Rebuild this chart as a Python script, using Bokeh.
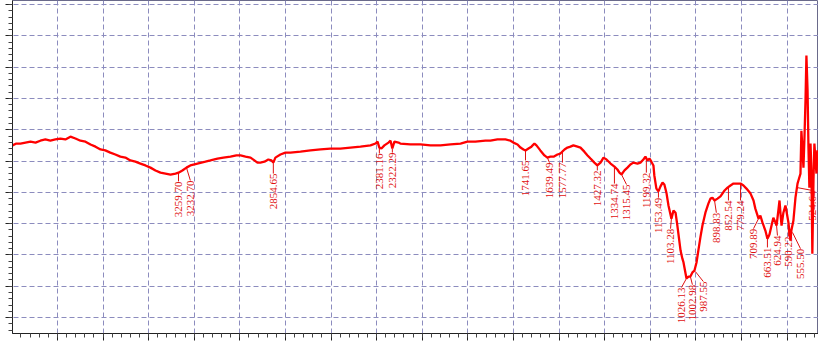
import numpy as np
from bokeh.plotting import figure
from bokeh.models import Range1d, FixedTicker
from bokeh.embed import file_html
from bokeh.resources import INLINE
from bokeh.core.properties import value

# ---- spectrum data (wavenumber cm-1, transmittance) ----
wavenumber = [
    3997, 3980, 3962, 3940, 3918, 3896, 3875, 3853, 3831, 3809,
    3787, 3765, 3743, 3721, 3699, 3677, 3655, 3633, 3611, 3590,
    3568, 3546, 3524, 3502, 3480, 3458, 3436, 3414, 3392, 3370,
    3348, 3326, 3304, 3282, 3269, 3252, 3234, 3217, 3186, 3151,
    3129, 3098, 3072, 3041, 3015, 2997, 2975, 2953, 2936, 2923,
    2910, 2892, 2875, 2861, 2853, 2844, 2822, 2800, 2778, 2734,
    2690, 2646, 2603, 2559, 2515, 2471, 2427, 2405, 2396, 2388,
    2379, 2366, 2348, 2339, 2331, 2322, 2304, 2296, 2252, 2208,
    2164, 2120, 2076, 2032, 2002, 1967, 1923, 1901, 1870, 1835,
    1813, 1800, 1782, 1769, 1756, 1747, 1734, 1721, 1708, 1699,
    1682, 1664, 1651, 1638, 1624, 1607, 1594, 1576, 1563, 1550,
    1537, 1519, 1506, 1489, 1475, 1462, 1445, 1432, 1418, 1405,
    1392, 1374, 1357, 1344, 1335, 1326, 1313, 1300, 1287, 1274,
    1256, 1243, 1230, 1221, 1212, 1203, 1195, 1186, 1182, 1173,
    1164, 1155, 1146, 1138, 1129, 1120, 1107, 1098, 1089, 1081,
    1067, 1059, 1054, 1050, 1041, 1032, 1024, 1015, 1006, 997,
    989, 980, 971, 958, 945, 936, 927, 918, 905, 892,
    874, 861, 848, 835, 817, 804, 791, 778, 760, 747,
    739, 725, 717, 708, 695, 686, 677, 668, 660, 651,
    646, 638, 633, 629, 624, 616, 607, 603, 594, 585,
    581, 572, 563, 554, 550, 541, 537, 532, 528, 524,
    519, 515, 510, 506, 502, 497, 493, 489, 484, 480,
    475, 471, 467, 462,
]
transmittance = [
    55.0, 55.6, 55.6, 55.9, 56.2, 55.9, 56.5, 56.9, 56.5, 56.9,
    57.2, 56.9, 57.8, 57.2, 56.5, 56.2, 55.3, 54.6, 53.7, 53.4,
    52.7, 52.1, 51.4, 51.1, 50.2, 49.8, 49.2, 48.6, 47.9, 47.0,
    46.3, 46.0, 45.7, 46.0, 46.3, 47.0, 47.9, 48.6, 49.2, 49.8,
    50.2, 50.8, 51.1, 51.4, 51.8, 51.8, 51.4, 51.1, 50.2, 49.5,
    49.5, 49.8, 50.5, 50.2, 49.5, 51.1, 52.1, 52.7, 52.7, 53.0,
    53.4, 53.7, 54.0, 54.0, 54.3, 54.6, 55.0, 55.6, 56.2, 54.3,
    54.0, 55.0, 55.9, 56.5, 54.0, 56.2, 55.9, 55.6, 55.3, 55.3,
    55.0, 55.0, 55.3, 55.6, 56.2, 56.2, 56.5, 56.5, 56.9, 56.9,
    56.5, 55.9, 55.3, 54.3, 53.7, 53.4, 54.0, 54.6, 55.6, 55.0,
    53.4, 51.8, 51.1, 51.4, 51.4, 52.1, 52.4, 53.7, 54.3, 54.6,
    55.0, 54.6, 54.3, 53.0, 51.8, 50.8, 49.5, 48.6, 49.5, 51.1,
    50.5, 49.2, 48.2, 47.3, 46.3, 45.7, 47.0, 47.9, 48.9, 49.5,
    49.2, 49.5, 50.5, 51.4, 50.2, 50.8, 49.8, 48.6, 45.4, 41.2,
    40.3, 41.9, 43.1, 42.5, 39.9, 35.8, 31.6, 34.2, 33.5, 29.4,
    21.4, 18.8, 17.6, 16.0, 12.5, 13.1, 13.1, 14.4, 15.0, 17.6,
    21.4, 25.6, 29.4, 33.5, 36.4, 38.0, 38.3, 37.4, 38.0, 38.7,
    40.6, 41.5, 42.2, 42.8, 42.8, 42.8, 42.2, 41.2, 39.6, 37.4,
    34.8, 31.6, 32.6, 30.4, 27.8, 25.2, 26.5, 29.4, 31.9, 30.4,
    29.4, 34.2, 37.4, 33.5, 29.4, 33.5, 35.8, 34.2, 30.4, 24.6,
    27.8, 31.0, 38.3, 42.8, 43.8, 46.0, 59.7, 53.4, 47.9, 56.5,
    69.3, 83.7, 72.5, 54.3, 41.5, 55.6, 47.0, 20.4, 43.8, 55.6,
    50.2, 46.0, 53.4, 48.6,
]

# ---- peak annotations ----
peak_labels = ["3259.70", "3232.70", "2854.65", "2381.16", "2322.29", "1741.65",
               "1639.49", "1577.77", "1427.32", "1334.74", "1315.45", "1199.32",
               "1153.49", "1103.28", "1026.13", "1002.98", "987.55", "898.83",
               "852.54", "779.24", "709.89", "663.51", "624.94", "590.22",
               "555.50", "524.64"]
label_wn = [3269, 3217, 2853, 2388, 2331, 1747, 1642, 1585, 1432, 1357, 1304, 1217,
            1164, 1111, 1063, 1015, 967, 910, 857, 804, 747, 686, 642, 594, 541, 489]
label_t = [43.5, 43.8, 46.0, 52.4, 52.7, 50.2, 49.5, 49.5, 47.0, 42.8, 42.5, 46.3,
           38.3, 28.4, 9.6, 10.5, 11.5, 33.5, 37.4, 37.4, 28.4, 22.4, 26.2, 25.9, 22.0, 40.6]
peak_wn = [3269, 3234, 2853, 2388, 2331, 1747, 1651, 1585, 1432, 1357, 1326, 1217,
           1164, 1107, 1041, 1024, 1002, 918, 857, 804, 725, 686, 646, 594, 576, 554]
peak_t = [46.3, 47.9, 49.5, 54.0, 54.0, 53.4, 51.1, 53.4, 48.6, 47.9, 45.7, 50.8,
          40.3, 31.6, 12.5, 13.1, 14.7, 37.4, 41.5, 42.8, 31.6, 25.2, 29.4, 30.4, 27.2, 41.5]

x_major = list(range(400, 4001, 200))
x_minor = list(range(400, 4001, 40))
y_major = list(range(-10, 111, 10))
y_minor = list(range(-10, 111, 2))

p = figure(width=818, height=341,
           x_range=Range1d(3997, 462), y_range=Range1d(-5.1, 101.3),
           output_backend="svg", toolbar_location=None,
           min_border_left=12, min_border_right=0, min_border_top=0, min_border_bottom=8)

p.background_fill_color = "white"
p.border_fill_color = "white"
p.outline_line_color = "#6a6a8a"
p.outline_line_width = 1

p.xaxis.ticker = FixedTicker(ticks=x_major, minor_ticks=x_minor)
p.yaxis.ticker = FixedTicker(ticks=y_major, minor_ticks=y_minor)
p.xaxis.major_label_overrides = {t: "" for t in x_major}
p.yaxis.major_label_overrides = {t: "" for t in y_major}

for ax in (p.xaxis[0], p.yaxis[0]):
    ax.major_label_text_font_size = "1px"
    ax.major_label_standoff = 0
    ax.major_tick_in = 0
    ax.minor_tick_in = 0
    ax.axis_line_color = "#222222"
    ax.major_tick_line_color = "#222222"
    ax.minor_tick_line_color = "#444444"

p.xaxis.major_tick_out = 7
p.xaxis.minor_tick_out = 4
p.yaxis.major_tick_out = 7
p.yaxis.minor_tick_out = 4

p.grid.grid_line_color = "#8c8cbe"
p.grid.grid_line_dash = "5 3"
p.grid.grid_line_width = 1

# annotations
p.segment(x0=peak_wn, y0=peak_t, x1=label_wn, y1=label_t,
          line_color="#e01010", line_width=1)
p.text(x=label_wn, y=label_t, text=peak_labels, angle=np.pi / 2,
       text_align="right", text_baseline="middle",
       text_font=value("Liberation Serif"), text_font_size=value("11px"),
       text_color="#e01010")

# spectrum
p.line(wavenumber, transmittance, line_color="#ff0000", line_width=2.3)

open("out.html", "w").write(file_html(p, INLINE))
